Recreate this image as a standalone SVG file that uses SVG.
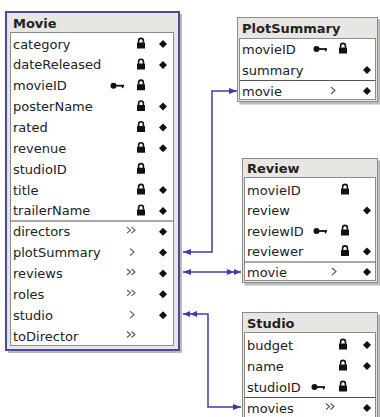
<svg xmlns="http://www.w3.org/2000/svg" xmlns:xlink="http://www.w3.org/1999/xlink" width="380" height="417" viewBox="0 0 380 417">
<style>
.t{font-family:"DejaVu Sans","Liberation Sans",sans-serif;font-size:13px;fill:#222}
.h{font-family:"DejaVu Sans","Liberation Sans",sans-serif;font-size:13px;font-weight:bold;fill:#222}
.frame{fill:#e8e6e3;stroke:#8c8c8c;stroke-width:1}
.sel{fill:#e8e6e3;stroke:#4f4a96;stroke-width:2}
.rows{fill:#fff;stroke:#8c8c8c;stroke-width:1}
.sep{stroke:#555;stroke-width:1}
.shadow{fill:#666;opacity:0.45}
.conn{fill:none;stroke:#3c3cad;stroke-width:1.5}
.chev{fill:none;stroke:#555;stroke-width:1.1}
</style>
<defs>
<g id="lock"><rect x="-4" y="-1.5" width="8" height="6" rx="0.5" fill="#111"/><path d="M-2.4,-1.2 V-3.2 A2.4,2.4 0 0 1 2.4,-3.2 V-1.2" fill="none" stroke="#111" stroke-width="1.6"/></g>
<path id="dia" d="M0,-4 L4,0 L0,4 L-4,0Z" fill="#111"/>
<g id="key"><circle cx="-3.5" cy="0" r="3" fill="#111"/><rect x="-1" y="-0.9" width="8" height="1.8" fill="#111"/><rect x="4.8" y="0" width="1.6" height="2.4" fill="#111"/></g>
<path id="one" class="chev" d="M-2,-4 L2,-0.5 L-2,3"/>
<g id="many"><path class="chev" d="M-4,-4.5 L-0.5,-1.5 L-4,1.5"/><path class="chev" d="M0.5,-4.5 L4,-1.5 L0.5,1.5"/></g>
<marker id="a1" markerUnits="userSpaceOnUse" markerWidth="8" markerHeight="8" viewBox="0 0 8 8" refX="8" refY="4" orient="auto-start-reverse"><path d="M0,1 L8,4 L0,7Z" fill="#3c3cad"/></marker>
<marker id="a2" markerUnits="userSpaceOnUse" markerWidth="14" markerHeight="8" viewBox="0 0 14 8" refX="14" refY="4" orient="auto-start-reverse"><path d="M0,1 L7,4 L0,7Z M7,1 L14,4 L7,7Z" fill="#3c3cad"/></marker>
</defs>
<rect width="380" height="417" fill="#fff"/>

<g id="Movie">
<rect class="shadow" x="8" y="14" width="174" height="339"/>
<rect class="sel" x="6" y="12" width="173" height="338"/>
<rect class="rows" x="10.5" y="32.5" width="163" height="313"/>
<line class="sep" x1="10.5" y1="221" x2="173.5" y2="221"/>
<text class="h" x="13" y="28">Movie</text>
<text class="t" x="13" y="48.5">category</text>
<text class="t" x="13" y="69.4">dateReleased</text>
<text class="t" x="13" y="90.2">movieID</text>
<text class="t" x="13" y="111.1">posterName</text>
<text class="t" x="13" y="131.9">rated</text>
<text class="t" x="13" y="152.8">revenue</text>
<text class="t" x="13" y="173.7">studioID</text>
<text class="t" x="13" y="194.5">title</text>
<text class="t" x="13" y="215.4">trailerName</text>
<text class="t" x="13" y="236.2">directors</text>
<text class="t" x="13" y="257.1">plotSummary</text>
<text class="t" x="13" y="278">reviews</text>
<text class="t" x="13" y="298.8">roles</text>
<text class="t" x="13" y="319.7">studio</text>
<text class="t" x="13" y="340.5">toDirector</text>
<use href="#lock" x="141" y="44"/><use href="#dia" x="163" y="44"/>
<use href="#lock" x="141" y="64.9"/><use href="#dia" x="163" y="64.9"/>
<use href="#key" x="117" y="85.7"/><use href="#lock" x="141" y="85.7"/>
<use href="#lock" x="141" y="106.6"/><use href="#dia" x="163" y="106.6"/>
<use href="#lock" x="141" y="127.4"/><use href="#dia" x="163" y="127.4"/>
<use href="#lock" x="141" y="148.3"/><use href="#dia" x="163" y="148.3"/>
<use href="#lock" x="141" y="169.2"/>
<use href="#lock" x="141" y="190"/><use href="#dia" x="163" y="190"/>
<use href="#lock" x="141" y="210.9"/><use href="#dia" x="163" y="210.9"/>
<use href="#many" x="131" y="231.7"/><use href="#dia" x="163" y="231.7"/>
<use href="#one" x="132" y="252.6"/><use href="#dia" x="163" y="252.6"/>
<use href="#many" x="131" y="273.5"/><use href="#dia" x="163" y="273.5"/>
<use href="#many" x="131" y="294.3"/><use href="#dia" x="163" y="294.3"/>
<use href="#one" x="132" y="315.2"/><use href="#dia" x="163" y="315.2"/>
<use href="#many" x="131" y="336"/>
</g>

<g id="PlotSummary">
<rect class="shadow" x="239.5" y="19.5" width="141" height="85"/>
<rect class="frame" x="237.5" y="17.5" width="140" height="84"/>
<rect class="rows" x="239.5" y="38.5" width="136" height="61"/>
<line class="sep" x1="239.5" y1="80.5" x2="375.5" y2="80.5"/>
<text class="h" x="242" y="33">PlotSummary</text>
<text class="t" x="242" y="53.5">movieID</text>
<text class="t" x="242" y="74.5">summary</text>
<text class="t" x="242" y="95.5">movie</text>
<use href="#key" x="320" y="49"/><use href="#lock" x="343" y="49"/>
<use href="#dia" x="367" y="70"/>
<use href="#one" x="333" y="91"/><use href="#dia" x="367" y="91"/>
</g>

<g id="Review">
<rect class="shadow" x="244.5" y="160.5" width="136" height="125"/>
<rect class="frame" x="242.5" y="158.5" width="135" height="124"/>
<rect class="rows" x="244.5" y="177.5" width="131" height="103"/>
<line class="sep" x1="244.5" y1="262" x2="375.5" y2="262"/>
<text class="h" x="247" y="173">Review</text>
<text class="t" x="247" y="194.5">movieID</text>
<text class="t" x="247" y="215">review</text>
<text class="t" x="247" y="235.5">reviewID</text>
<text class="t" x="247" y="256">reviewer</text>
<text class="t" x="247" y="276.5">movie</text>
<use href="#lock" x="345" y="190"/>
<use href="#dia" x="367" y="210.5"/>
<use href="#key" x="320" y="231"/><use href="#lock" x="345" y="231"/>
<use href="#lock" x="345" y="251.5"/><use href="#dia" x="367" y="251.5"/>
<use href="#one" x="334" y="272"/><use href="#dia" x="367" y="272"/>
</g>

<g id="Studio">
<rect class="shadow" x="244.5" y="314.5" width="136" height="110"/>
<rect class="frame" x="242.5" y="312.5" width="135" height="110"/>
<rect class="rows" x="244.5" y="332.5" width="131" height="90"/>
<line class="sep" x1="244.5" y1="397.5" x2="375.5" y2="397.5"/>
<text class="h" x="247" y="328">Studio</text>
<text class="t" x="247" y="349.5">budget</text>
<text class="t" x="247" y="370.5">name</text>
<text class="t" x="247" y="391.5">studioID</text>
<text class="t" x="247" y="412.5">movies</text>
<use href="#lock" x="343" y="345"/><use href="#dia" x="367" y="345"/>
<use href="#lock" x="343" y="366"/><use href="#dia" x="367" y="366"/>
<use href="#key" x="318" y="387"/><use href="#lock" x="343" y="387"/>
<use href="#many" x="330" y="408"/><use href="#dia" x="367" y="408"/>
</g>

<g id="connectors">
<path class="conn" d="M183,252 H212 V91 H237" marker-start="url(#a1)" marker-end="url(#a1)"/>
<path class="conn" d="M183,272 H241" marker-start="url(#a1)" marker-end="url(#a2)"/>
<path class="conn" d="M183,314 H208 V407 H241" marker-start="url(#a2)" marker-end="url(#a1)"/>
</g>
</svg>
